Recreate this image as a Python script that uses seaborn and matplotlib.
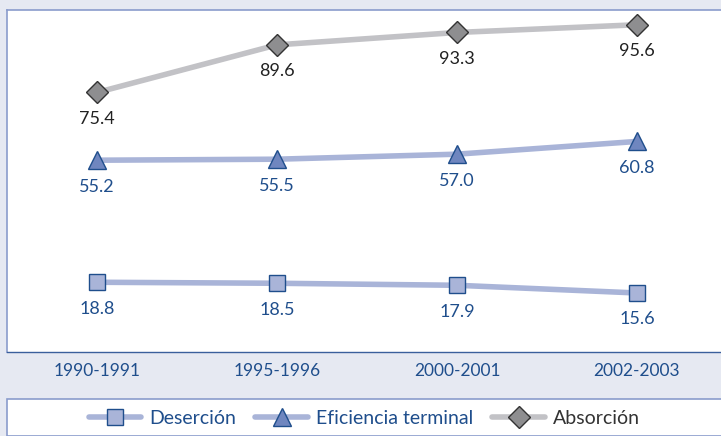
import numpy as np
import pandas as pd
import matplotlib
matplotlib.use('Agg')
import matplotlib.pyplot as plt
import seaborn as sns
from matplotlib.patches import Rectangle

periodos = ['1990-1991', '1995-1996', '2000-2001', '2002-2003']
desercion = [18.8, 18.5, 17.9, 15.6]
eficiencia = [55.2, 55.5, 57.0, 60.8]
absorcion = [75.4, 89.6, 93.3, 95.6]

sns.set_style('white')
plt.rcParams['font.family'] = ['Lato', 'DejaVu Sans']

bg = '#e6e9f2'
azul = '#1f4e8c'
fig = plt.figure(figsize=(7.21, 4.36), dpi=100, facecolor=bg)
ax = fig.add_axes([7 / 721, 84 / 436, 720 / 721, 342 / 436])
ax.set_facecolor('white')

x = np.arange(len(periodos))
series = [
    ('Deserción', desercion, '#a9b4d8', 's', '#a9b4d8', azul, 11, azul),
    ('Eficiencia terminal', eficiencia, '#a9b4d8', '^', '#6f86bf', azul, 13, azul),
    ('Absorción', absorcion, '#c2c2c6', 'D', '#8e8e90', '#333333', 11, '#222222'),
]

handles = []
for name, vals, lc, mk, mfc, mec, ms, tc in series:
    df = pd.DataFrame({'x': x, 'y': vals})
    sns.lineplot(data=df, x='x', y='y', ax=ax, color=lc, lw=4, marker=mk,
                 markersize=ms, markerfacecolor=mfc, markeredgecolor=mec,
                 markeredgewidth=1, sort=False, label=name, legend=False)
    handles.append(ax.lines[-1])
    for xi, v in zip(x, vals):
        ax.annotate(f'{v:.1f}', (xi, v), xytext=(0, -19), textcoords='offset points',
                    ha='center', va='center', fontsize=13, color=tc)

ax.set_xlim(-0.5, 3.5)
ax.set_ylim(-2, 100)
ax.set_xlabel('')
ax.set_ylabel('')
ax.set_yticks([])
ax.set_xticks(x)
ax.set_xticklabels(periodos, fontsize=12.5, color=azul)
ax.tick_params(axis='x', which='major', length=0, pad=8)
ax.set_xticks([-0.5, 0.5, 1.5, 2.5], minor=True)
ax.tick_params(axis='x', which='minor', length=10, direction='inout', color=azul, width=1)

for s in ['left', 'top']:
    ax.spines[s].set_color('#8a9ccc')
    ax.spines[s].set_linewidth(1.2)
ax.spines['bottom'].set_color('#3a5f9c')
ax.spines['bottom'].set_linewidth(1)
ax.spines['right'].set_visible(False)

# caja de la leyenda
fig.patches.append(Rectangle((7 / 721, 0), 1, 37 / 436, transform=fig.transFigure,
                             facecolor='white', edgecolor='#8a9ccc', lw=1.2, zorder=0))

leg = fig.legend(handles=handles, labels=[s[0] for s in series], loc='center',
                 bbox_to_anchor=(0.505, 18 / 436), ncol=3, frameon=False,
                 fontsize=14, handlelength=2.7, columnspacing=1.0, handletextpad=0.4)
for t, s in zip(leg.get_texts(), series):
    t.set_color(s[7] if s[0] != 'Absorción' else '#333333')

fig.savefig('out.png', dpi=100, facecolor=bg)
